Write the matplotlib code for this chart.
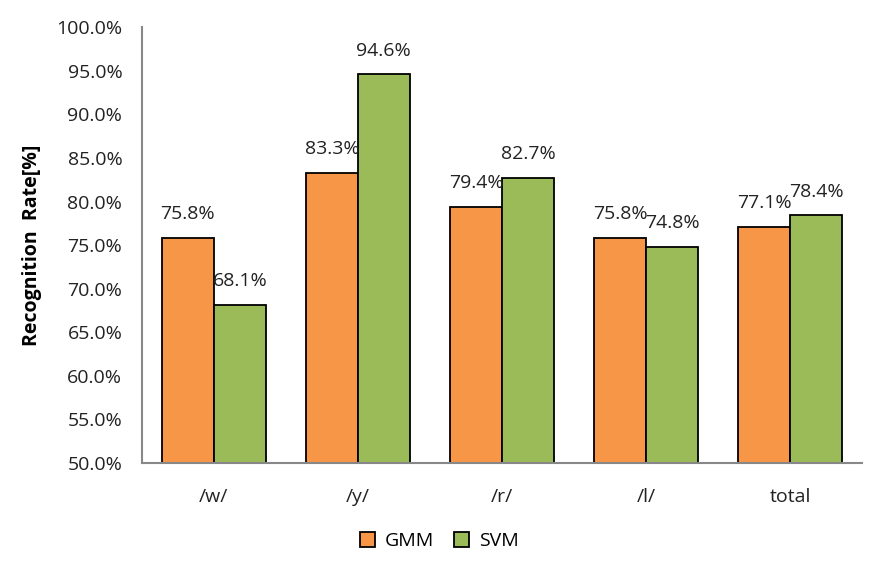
import numpy as np
import matplotlib
matplotlib.use('Agg')
import matplotlib.pyplot as plt
from matplotlib.ticker import FuncFormatter

plt.rcParams['font.family'] = ['Open Sans', 'DejaVu Sans']

categories = ['/w/', '/y/', '/r/', '/l/', 'total']
gmm = [75.8, 83.3, 79.4, 75.8, 77.1]
svm = [68.1, 94.6, 82.7, 74.8, 78.4]

fig = plt.figure(figsize=(8.7, 5.68), dpi=100)
ax = fig.add_axes([0.163, 0.185, 0.828, 0.767])

x = np.arange(len(categories))
w = 0.36
b1 = ax.bar(x - w/2, gmm, w, color='#F79646', edgecolor='black', linewidth=1.3, label='GMM')
b2 = ax.bar(x + w/2, svm, w, color='#9BBB59', edgecolor='black', linewidth=1.3, label='SVM')

for bars, vals in [(b1, gmm), (b2, svm)]:
    for r, v in zip(bars, vals):
        ax.text(r.get_x() + r.get_width()/2, v + 1.7, f'{v:.1f}%', ha='center', va='bottom',
                fontsize=14, color='#222222')

ax.set_ylim(50, 100)
ax.set_xlim(-0.5, len(categories) - 0.5)
ax.set_yticks(np.arange(50, 100.1, 5))
ax.yaxis.set_major_formatter(FuncFormatter(lambda v, p: f'{v:.1f}%'))
ax.set_xticks(x)
ax.set_xticklabels(categories)
ax.tick_params(axis='both', length=0, labelsize=14, colors='#222222')
ax.tick_params(axis='y', pad=14)
ax.tick_params(axis='x', pad=18)
for s in ['top', 'right']:
    ax.spines[s].set_visible(False)
for s in ['left', 'bottom']:
    ax.spines[s].set_color('#888888')
    ax.spines[s].set_linewidth(1.5)

ax.set_ylabel('Recognition  Rate[%]', fontsize=14, fontweight='bold', labelpad=10)

fig.legend(handles=[b1, b2], loc='center', bbox_to_anchor=(0.505, 0.047), ncol=2, frameon=False,
           fontsize=14, handlelength=0.8, handleheight=0.8, handletextpad=0.5, columnspacing=1.0)

fig.savefig('out.png', dpi=100)
